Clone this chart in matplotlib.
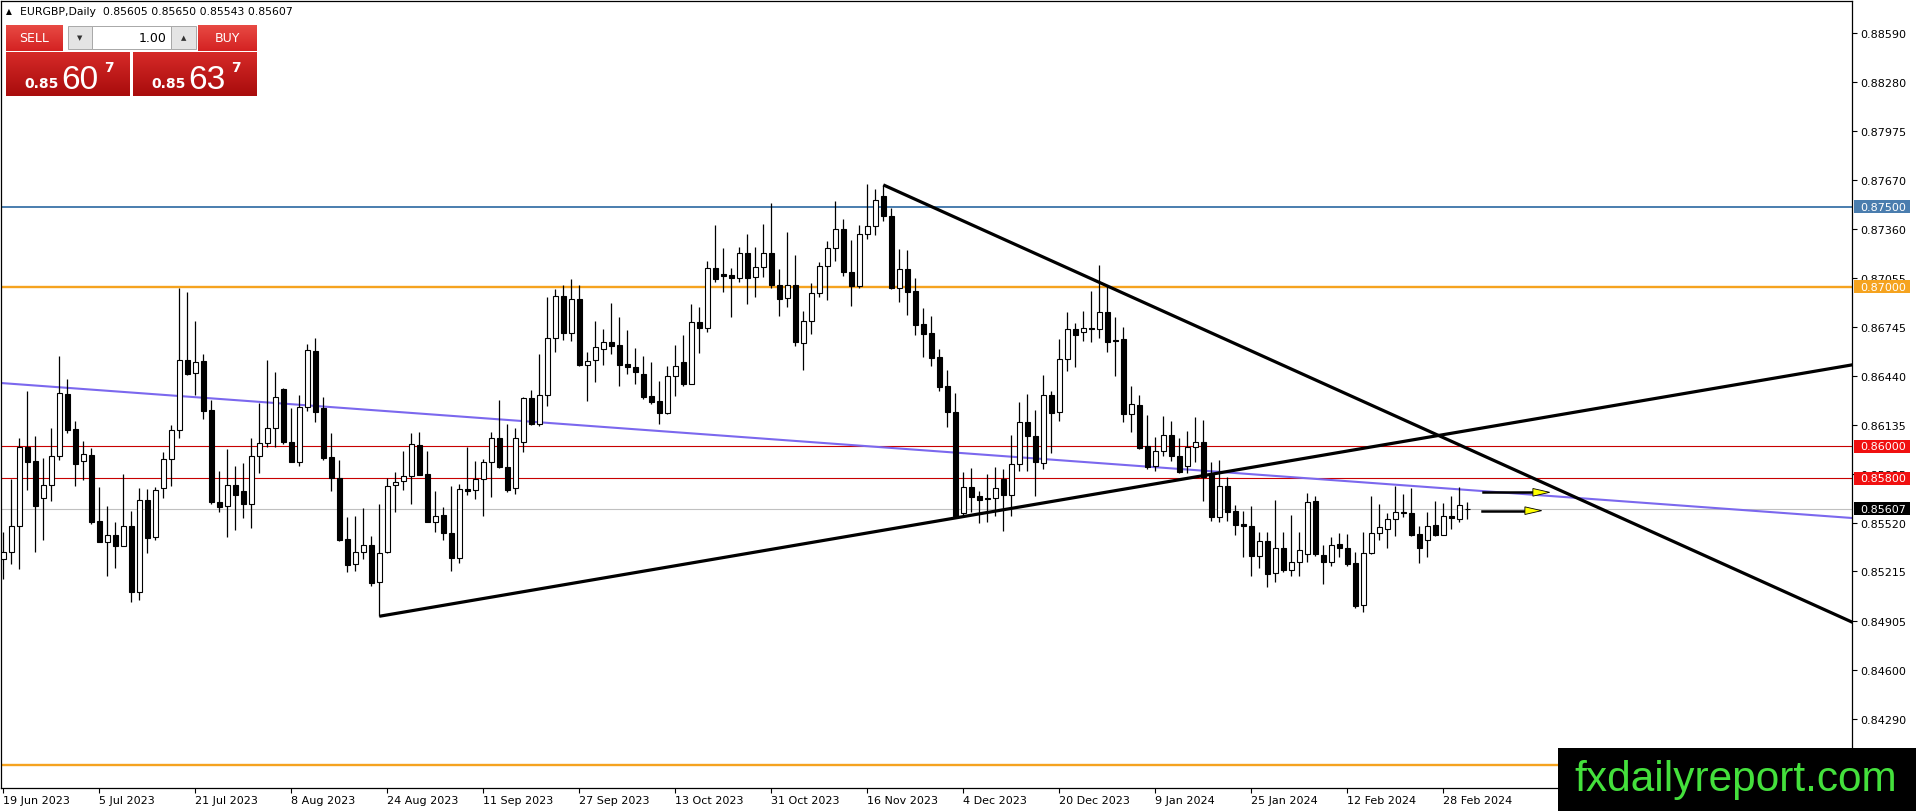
import numpy as np
import matplotlib.pyplot as plt
import matplotlib.transforms as mtransforms
from matplotlib.patches import Rectangle, Polygon
from matplotlib.colors import LinearSegmentedColormap

# daily EURGBP candles, 19 Jun 2023 .. 4 Mar 2024
opens = [0.85294, 0.85335, 0.85498, 0.85998, 0.85908, 0.85678, 0.85755, 0.85937, 0.86328, 0.86108,
         0.85906, 0.85945, 0.85530, 0.85398, 0.85442, 0.85373, 0.85498, 0.85085, 0.85663, 0.85429,
         0.85736, 0.85918, 0.86100, 0.86541, 0.86457, 0.86532, 0.86227, 0.85649, 0.85624, 0.85755,
         0.85720, 0.85640, 0.85937, 0.86020, 0.86117, 0.86357, 0.86029, 0.85904, 0.86244, 0.86595,
         0.86238, 0.85931, 0.85799, 0.85419, 0.85262, 0.85335, 0.85381, 0.85147, 0.85335, 0.85755,
         0.85780, 0.85816, 0.86008, 0.85826, 0.85523, 0.85569, 0.85454, 0.85298, 0.85732, 0.85726,
         0.85795, 0.85899, 0.86050, 0.85868, 0.85740, 0.86029, 0.86300, 0.86140, 0.86324, 0.86677,
         0.86940, 0.86708, 0.86921, 0.86511, 0.86543, 0.86608, 0.86651, 0.86635, 0.86514, 0.86495,
         0.86453, 0.86313, 0.86282, 0.86207, 0.86438, 0.86528, 0.86392, 0.86777, 0.86743, 0.87115,
         0.87078, 0.87071, 0.87053, 0.87209, 0.87059, 0.87122, 0.87209, 0.87013, 0.86927, 0.87013,
         0.86647, 0.86787, 0.86959, 0.87132, 0.87241, 0.87360, 0.87094, 0.87003, 0.87328, 0.87383,
         0.87571, 0.87445, 0.86990, 0.87111, 0.86973, 0.86766, 0.86710, 0.86557, 0.86376, 0.86213,
         0.85580, 0.85743, 0.85686, 0.85674, 0.85674, 0.85795, 0.85694, 0.85888, 0.86150, 0.86066,
         0.85895, 0.86323, 0.86212, 0.86547, 0.86735, 0.86714, 0.86739, 0.86735, 0.86839, 0.86666,
         0.86672, 0.86202, 0.86258, 0.85999, 0.85874, 0.85968, 0.86072, 0.85937, 0.85874, 0.85993,
         0.86028, 0.85820, 0.85554, 0.85749, 0.85594, 0.85512, 0.85502, 0.85310, 0.85408, 0.85203,
         0.85360, 0.85224, 0.85272, 0.85322, 0.85659, 0.85320, 0.85272, 0.85385, 0.85360, 0.85266,
         0.85005, 0.85329, 0.85454, 0.85481, 0.85541, 0.85588, 0.85581, 0.85448, 0.85412, 0.85504,
         0.85445, 0.85560, 0.85544, 0.85605]
highs = [0.85461, 0.85795, 0.86050, 0.86344, 0.86062, 0.85924, 0.86112, 0.86564, 0.86422, 0.86161,
         0.86035, 0.85987, 0.85743, 0.85624, 0.85523, 0.85826, 0.85592, 0.85736, 0.85732, 0.85743,
         0.85966, 0.86133, 0.86992, 0.86969, 0.86783, 0.86578, 0.86292, 0.85847, 0.85983, 0.85878,
         0.85895, 0.86050, 0.86271, 0.86541, 0.86463, 0.86365, 0.86238, 0.86323, 0.86641, 0.86676,
         0.86307, 0.86083, 0.85914, 0.85555, 0.85561, 0.85613, 0.85440, 0.85638, 0.85799, 0.85841,
         0.85972, 0.86083, 0.86087, 0.85972, 0.85722, 0.85617, 0.85749, 0.85764, 0.85998, 0.85910,
         0.85920, 0.86091, 0.86290, 0.86140, 0.86112, 0.86307, 0.86355, 0.86578, 0.86934, 0.86986,
         0.87011, 0.87049, 0.87011, 0.86589, 0.86783, 0.86735, 0.86898, 0.86810, 0.86729, 0.86616,
         0.86566, 0.86530, 0.86411, 0.86501, 0.86635, 0.86698, 0.86892, 0.86873, 0.87161, 0.87387,
         0.87243, 0.87117, 0.87247, 0.87328, 0.87251, 0.87393, 0.87525, 0.87111, 0.87341, 0.87199,
         0.86846, 0.87023, 0.87153, 0.87287, 0.87535, 0.87425, 0.87293, 0.87387, 0.87644, 0.87613,
         0.87638, 0.87491, 0.87237, 0.87230, 0.87055, 0.86867, 0.86819, 0.86608, 0.86478, 0.86334,
         0.85837, 0.85864, 0.85722, 0.85826, 0.85868, 0.85857, 0.86070, 0.86275, 0.86327, 0.86229,
         0.86446, 0.86348, 0.86672, 0.86843, 0.86772, 0.86850, 0.86971, 0.87136, 0.87002, 0.86808,
         0.86745, 0.86379, 0.86321, 0.86196, 0.86056, 0.86187, 0.86156, 0.86049, 0.86098, 0.86181,
         0.86166, 0.85899, 0.85914, 0.85809, 0.85631, 0.85596, 0.85623, 0.85460, 0.85460, 0.85663,
         0.85460, 0.85569, 0.85460, 0.85707, 0.85686, 0.85381, 0.85429, 0.85454, 0.85450, 0.85335,
         0.85465, 0.85686, 0.85638, 0.85581, 0.85753, 0.85700, 0.85736, 0.85498, 0.85590, 0.85659,
         0.85644, 0.85686, 0.85742, 0.85650]
lows = [0.85168, 0.85262, 0.85231, 0.85728, 0.85339, 0.85415, 0.85659, 0.85916, 0.86083, 0.85749,
        0.85791, 0.85513, 0.85398, 0.85189, 0.85235, 0.85373, 0.85022, 0.85039, 0.85331, 0.85415,
        0.85678, 0.85753, 0.86050, 0.86447, 0.86321, 0.86171, 0.85636, 0.85590, 0.85429, 0.85477,
        0.85548, 0.85486, 0.85830, 0.85993, 0.85993, 0.86016, 0.85899, 0.85878, 0.86223, 0.86154,
        0.85914, 0.85722, 0.85408, 0.85214, 0.85220, 0.85294, 0.85126, 0.84934, 0.85331, 0.85586,
        0.85728, 0.85636, 0.85822, 0.85523, 0.85461, 0.85415, 0.85220, 0.85268, 0.85695, 0.85670,
        0.85561, 0.85680, 0.85864, 0.85711, 0.85700, 0.85966, 0.86133, 0.86129, 0.86255, 0.86589,
        0.86668, 0.86662, 0.86501, 0.86286, 0.86405, 0.86511, 0.86576, 0.86380, 0.86455, 0.86392,
        0.86296, 0.86263, 0.86142, 0.86200, 0.86317, 0.86380, 0.86388, 0.86587, 0.86718, 0.87032,
        0.86969, 0.86812, 0.87028, 0.86894, 0.86938, 0.87059, 0.86990, 0.86815, 0.86871, 0.86626,
        0.86480, 0.86704, 0.86934, 0.86917, 0.87159, 0.87065, 0.86877, 0.86990, 0.87299, 0.87324,
        0.87410, 0.86986, 0.86902, 0.86825, 0.86700, 0.86562, 0.86503, 0.86349, 0.86119, 0.85555,
        0.85565, 0.85586, 0.85519, 0.85528, 0.85565, 0.85471, 0.85560, 0.85847, 0.85842, 0.85690,
        0.85857, 0.85957, 0.86160, 0.86473, 0.86494, 0.86662, 0.86655, 0.86676, 0.86588, 0.86442,
        0.86154, 0.86087, 0.85982, 0.85857, 0.85847, 0.85941, 0.85909, 0.85832, 0.85832, 0.85899,
        0.85659, 0.85533, 0.85527, 0.85533, 0.85443, 0.85303, 0.85189, 0.85234, 0.85115, 0.85151,
        0.85214, 0.85189, 0.85189, 0.85272, 0.85314, 0.85136, 0.85251, 0.85303, 0.85251, 0.84984,
        0.84963, 0.85324, 0.85412, 0.85360, 0.85439, 0.85554, 0.85439, 0.85266, 0.85303, 0.85439,
        0.85443, 0.85481, 0.85527, 0.85543]
closes = [0.85335, 0.85498, 0.85998, 0.85904, 0.85628, 0.85755, 0.85937, 0.86332, 0.86104, 0.85891,
          0.85950, 0.85528, 0.85398, 0.85442, 0.85373, 0.85498, 0.85085, 0.85663, 0.85423, 0.85726,
          0.85918, 0.86100, 0.86539, 0.86453, 0.86526, 0.86223, 0.85649, 0.85619, 0.85755, 0.85697,
          0.85640, 0.85937, 0.86018, 0.86117, 0.86307, 0.86029, 0.85904, 0.86244, 0.86601, 0.86213,
          0.85927, 0.85799, 0.85415, 0.85258, 0.85340, 0.85381, 0.85141, 0.85331, 0.85753, 0.85774,
          0.85816, 0.86014, 0.85822, 0.85523, 0.85565, 0.85454, 0.85298, 0.85732, 0.85722, 0.85795,
          0.85899, 0.86050, 0.85868, 0.85728, 0.86050, 0.86300, 0.86140, 0.86324, 0.86677, 0.86940,
          0.86708, 0.86921, 0.86511, 0.86536, 0.86620, 0.86651, 0.86631, 0.86511, 0.86499, 0.86468,
          0.86307, 0.86280, 0.86207, 0.86438, 0.86501, 0.86392, 0.86777, 0.86743, 0.87115, 0.87049,
          0.87069, 0.87053, 0.87209, 0.87057, 0.87122, 0.87209, 0.87013, 0.86923, 0.87013, 0.86651,
          0.86787, 0.86959, 0.87132, 0.87241, 0.87360, 0.87094, 0.87003, 0.87328, 0.87383, 0.87542,
          0.87445, 0.86992, 0.87111, 0.86969, 0.86762, 0.86706, 0.86555, 0.86374, 0.86213, 0.85565,
          0.85743, 0.85684, 0.85665, 0.85670, 0.85737, 0.85697, 0.85888, 0.86150, 0.86066, 0.85899,
          0.86323, 0.86206, 0.86547, 0.86735, 0.86699, 0.86739, 0.86732, 0.86839, 0.86651, 0.86659,
          0.86202, 0.86264, 0.85987, 0.85868, 0.85968, 0.86072, 0.85937, 0.85840, 0.85993, 0.86028,
          0.85809, 0.85554, 0.85749, 0.85590, 0.85506, 0.85498, 0.85314, 0.85408, 0.85199, 0.85360,
          0.85226, 0.85272, 0.85351, 0.85652, 0.85324, 0.85272, 0.85383, 0.85360, 0.85262, 0.85000,
          0.85329, 0.85454, 0.85492, 0.85541, 0.85585, 0.85579, 0.85445, 0.85360, 0.85502, 0.85445,
          0.85560, 0.85548, 0.85630, 0.85607]

date_ticks = [0, 12, 24, 36, 48, 60, 72, 84, 96, 108, 120, 132, 144, 156, 168, 180]
date_labels = ['19 Jun 2023', '5 Jul 2023', '21 Jul 2023', '8 Aug 2023', '24 Aug 2023',
               '11 Sep 2023', '27 Sep 2023', '13 Oct 2023', '31 Oct 2023', '16 Nov 2023',
               '4 Dec 2023', '20 Dec 2023', '9 Jan 2024', '25 Jan 2024', '12 Feb 2024',
               '28 Feb 2024']

price_ticks = [0.88590, 0.88280, 0.87975, 0.87670, 0.87360, 0.87055, 0.86745, 0.86440,
               0.86135, 0.85825, 0.85520, 0.85215, 0.84905, 0.84600, 0.84290]

level_prices = [0.87500, 0.87000, 0.86000, 0.85800, 0.84000]
level_colors = ['#4A7DAE', '#F5A31F', '#C80000', '#C80000', '#F5A31F']
level_widths = [1.4, 1.7, 0.8, 0.8, 1.7]

tag_prices = [0.87500, 0.87000, 0.86000, 0.85800]
tag_colors = ['#4A7DAE', '#F5A31F', '#F01010', '#F01010']
bid = 0.85607

channel_x = [0, 230]
channel_y = [0.86395, 0.85554]
support_x = [47, 240]
support_y = [0.84934, 0.86586]
resist_x = [110, 240]
resist_y = [0.87638, 0.84696]

arrow_start = [185.0, 184.8]
arrow_tip = [193.3, 192.3]
arrow_y = [0.85711, 0.85596]

W, H = 1916, 812
fig = plt.figure(figsize=(W / 100, H / 100), dpi=100)
fig.patch.set_facecolor('white')
ax = fig.add_axes([1 / W, 23 / H, 1851 / W, 787 / H])
ax.set_xlim(-0.29, 231.09)
ax.set_ylim(0.838576, 0.887906)

o = np.array(opens)
hi = np.array(highs)
lo = np.array(lows)
c = np.array(closes)
idx = np.arange(len(o))
up = c >= o

for p, col, lw in zip(level_prices, level_colors, level_widths):
    ax.axhline(p, color=col, lw=lw, zorder=1)
ax.axhline(bid, color='#C0C0C0', lw=0.8, zorder=1)
ax.axline((channel_x[0], channel_y[0]), (channel_x[1], channel_y[1]), color='#7B68EE', lw=1.5, zorder=2)

ax.vlines(idx, lo, hi, color='black', lw=0.9, zorder=3)
body_lo = np.minimum(o, c)
body_h = np.maximum(np.abs(c - o), 0.00003)
ax.bar(idx[up], body_h[up], 0.62, bottom=body_lo[up], color='white', edgecolor='black', lw=0.8, zorder=4)
ax.bar(idx[~up], body_h[~up], 0.62, bottom=body_lo[~up], color='black', edgecolor='black', lw=0.8, zorder=4)

ax.plot(support_x, support_y, color='black', lw=2.3, zorder=5, solid_capstyle='butt')
ax.plot(resist_x, resist_y, color='black', lw=2.3, zorder=5, solid_capstyle='butt')

for x0, x1, y in zip(arrow_start, arrow_tip, arrow_y):
    base = x1 - 2.1
    ax.plot([x0, base], [y, y], color='black', lw=1.8, zorder=5)
    ax.add_patch(Polygon([[base, y + 0.00024], [x1, y], [base, y - 0.00024]], closed=True,
                         fc='#FFFF00', ec='black', lw=0.6, zorder=6))

ax.yaxis.tick_right()
ax.set_yticks(price_ticks)
ax.set_yticklabels(['%.5f' % p for p in price_ticks])
ax.set_xticks(date_ticks)
ax.set_xticklabels(date_labels, ha='left')
ax.tick_params(axis='y', length=3.6, width=0.8, pad=2.2, labelsize=8, colors='black')
ax.tick_params(axis='x', length=3.6, width=0.8, pad=1.5, labelsize=8, colors='black')
for s in ax.spines.values():
    s.set_linewidth(0.9)
    s.set_color('black')

# price tags on the right scale
trans = mtransforms.blended_transform_factory(ax.transAxes, ax.transData)
tag_h = 13 / 15954
for p, col in zip(tag_prices + [bid], tag_colors + ['black']):
    ax.add_patch(Rectangle((1 + 2 / 1851, p - tag_h / 2), 56 / 1851, tag_h, transform=trans,
                           fc=col, ec='none', clip_on=False, zorder=7))
    ax.text(1 + 8 / 1851, p, '%.5f' % p, transform=trans, va='center', ha='left',
            color='white', fontsize=8, clip_on=False, zorder=8)

# overlay in pixel coordinates for header, trade panel and watermark
ov = fig.add_axes([0, 0, 1, 1])
ov.set_zorder(10)
ov.axis('off')


def grad_box(x0, y0, w, h, top, bottom):
    cmap = LinearSegmentedColormap.from_list('g', [top, bottom])
    ov.imshow(np.linspace(0, 1, 60).reshape(-1, 1), extent=(x0, x0 + w, y0 + h, y0),
              cmap=cmap, aspect='auto', interpolation='bilinear')


ov.text(9, 12, '\u25B2', fontsize=5.5, ha='center', va='center')
ov.text(20, 12, 'EURGBP,Daily  0.85605 0.85650 0.85543 0.85607', fontsize=7.8, va='center')

grad_box(6, 26, 57, 26, '#E84A44', '#D42222')
grad_box(198, 26, 59, 26, '#E84A44', '#D42222')
grad_box(6, 53, 124, 44, '#D62A28', '#A80C0C')
grad_box(133, 53, 124, 44, '#D62A28', '#A80C0C')
ov.add_patch(Rectangle((68, 27), 24, 23, fc='#E4E4E4', ec='#A8A8A8', lw=0.7))
ov.add_patch(Rectangle((92, 27), 79, 23, fc='white', ec='#A8A8A8', lw=0.7))
ov.add_patch(Rectangle((171, 27), 25, 23, fc='#E4E4E4', ec='#A8A8A8', lw=0.7))
ov.text(80, 38.5, '\u25BC', fontsize=5, ha='center', va='center', color='#333333')
ov.text(183.5, 38.5, '\u25B2', fontsize=5, ha='center', va='center', color='#333333')
ov.text(167, 38.5, '1.00', fontsize=9, ha='right', va='center', color='black')
ov.text(34.5, 39, 'SELL', fontsize=9, ha='center', va='center', color='white')
ov.text(227.5, 39, 'BUY', fontsize=9, ha='center', va='center', color='white')
for x0, big in [(24, '60'), (151, '63')]:
    ov.text(x0, 88, '0.85', fontsize=10, fontweight='bold', color='white', va='baseline')
    ov.text(x0 + 37, 89, big, fontsize=24, color='white', va='baseline', family='Liberation Sans')
    ov.text(x0 + 80, 72, '7', fontsize=10, fontweight='bold', color='white', va='baseline')

ov.add_patch(Rectangle((1558, 749), W - 1558, H - 749, fc='black', ec='none'))
ov.text(1736, 780, 'fxdailyreport.com', fontsize=30.5, color='#44E03C', ha='center', va='center',
        family='Liberation Sans')
ov.set_xlim(0, W)
ov.set_ylim(H, 0)

fig.savefig('out.png', dpi=100)
